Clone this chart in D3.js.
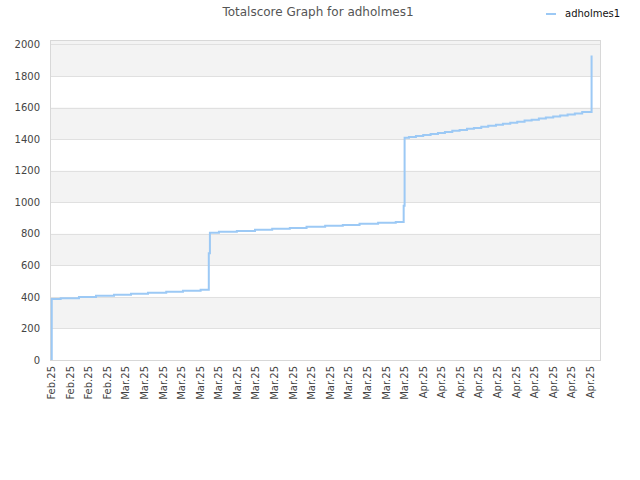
<!DOCTYPE html>
<html>
<head>
<meta charset="utf-8">
<script src="https://cdn.jsdelivr.net/npm/d3@7"></script>
<style>
  body { margin: 0; background: #fff; }
  text { font-family: "DejaVu Sans", sans-serif; }
</style>
</head>
<body>
<script>
// days since the first tick (Feb 21 2025), and the score reached at that moment
var stepDays = [0.08, 0.08, 1.04, 3.01, 4.84, 6.78, 8.61, 10.44, 12.4, 14.2, 16.1, 16.98, 17.1,
  18.07, 20.0, 21.95, 23.8, 25.7, 27.5, 29.5, 31.4, 33.2, 35.2, 37.1, 37.95, 38.05,
  38.52, 39.27, 40.05, 40.85, 41.64, 42.39, 43.18, 43.97, 44.76, 45.51, 46.30, 47.05,
  47.88, 48.63, 49.42, 50.17, 50.96, 51.72, 52.50, 53.25, 54.04, 54.79, 55.59, 56.37,
  57.16, 58.17];
var stepScores = [0, 386, 392, 400, 407, 413, 420, 426, 432, 439, 445, 677, 806,
  812, 818, 825, 831, 837, 844, 850, 856, 863, 869, 875, 977, 1409,
  1413, 1419, 1426, 1432, 1439, 1445, 1452, 1458, 1465, 1471, 1478, 1484,
  1491, 1497, 1504, 1510, 1517, 1523, 1530, 1536, 1543, 1549, 1556, 1562,
  1571, 1930];

// x tick labels, one every two days
var tickLabels = ["Feb.25", "Feb.25", "Feb.25", "Feb.25",
  "Mar.25", "Mar.25", "Mar.25", "Mar.25", "Mar.25", "Mar.25", "Mar.25", "Mar.25",
  "Mar.25", "Mar.25", "Mar.25", "Mar.25", "Mar.25", "Mar.25", "Mar.25", "Mar.25",
  "Apr.25", "Apr.25", "Apr.25", "Apr.25", "Apr.25", "Apr.25", "Apr.25", "Apr.25",
  "Apr.25", "Apr.25"];
var yTicks = [0, 200, 400, 600, 800, 1000, 1200, 1400, 1600, 1800, 2000];

var userName = "adholmes1";
var lineColor = "#9cc9f5";

var width = 640, height = 480;
var plot = {left: 50, right: 600, top: 40, bottom: 360};

var svg = d3.select("body").append("svg")
    .attr("width", width)
    .attr("height", height);

var x = d3.scaleLinear().domain([0, (tickLabels.length - 1) * 2]).range([51, 590]);
var y = d3.scaleLinear().domain([0, 2000]).range([plot.bottom, 44.4]);

// background
svg.append("rect")
    .attr("x", plot.left).attr("y", plot.top)
    .attr("width", plot.right - plot.left).attr("height", plot.bottom - plot.top)
    .attr("fill", "#fff");

// alternating bands (200-400, 600-800, ... and above 1800 up to the frame)
var bands = yTicks.filter(function(d, i) { return i % 2 == 1; });
svg.append("g").selectAll("rect")
    .data(bands)
    .enter().append("rect")
    .attr("x", plot.left)
    .attr("y", function(d) { return d + 200 >= 2000 ? plot.top : y(d + 200); })
    .attr("width", plot.right - plot.left)
    .attr("height", function(d) {
      var yTop = d + 200 >= 2000 ? plot.top : y(d + 200);
      return y(d) - yTop;
    })
    .attr("fill", "#f3f3f3");

// gridlines
svg.append("g").selectAll("line")
    .data(yTicks)
    .enter().append("line")
    .attr("x1", plot.left).attr("x2", plot.right)
    .attr("y1", function(d) { return Math.round(y(d)) + 0.5; })
    .attr("y2", function(d) { return Math.round(y(d)) + 0.5; })
    .attr("stroke", "#e0e0e0")
    .attr("stroke-width", 1);

// plot border
svg.append("rect")
    .attr("x", plot.left + 0.5).attr("y", plot.top + 0.5)
    .attr("width", plot.right - plot.left).attr("height", plot.bottom - plot.top)
    .attr("fill", "none")
    .attr("stroke", "#d8d8d8");

// y axis labels
var yAxis = d3.axisLeft(y).tickValues(yTicks).tickFormat(d3.format("d"))
    .tickSize(0).tickPadding(0);
var gy = svg.append("g")
    .attr("transform", "translate(40,0)")
    .call(yAxis);
gy.select(".domain").remove();
gy.selectAll("text")
    .attr("font-size", "10px")
    .attr("font-family", "DejaVu Sans, sans-serif")
    .attr("fill", "#444");

// x axis labels
var tickDays = tickLabels.map(function(d, i) { return i * 2; });
var xAxis = d3.axisBottom(x).tickValues(tickDays)
    .tickFormat(function(d, i) { return tickLabels[i]; })
    .tickSize(0).tickPadding(0);
var gx = svg.append("g")
    .attr("transform", "translate(0," + plot.bottom + ")")
    .call(xAxis);
gx.select(".domain").remove();
gx.selectAll("text")
    .attr("font-size", "10px")
    .attr("font-family", "DejaVu Sans, sans-serif")
    .attr("fill", "#444")
    .attr("text-anchor", "end")
    .attr("dy", "0.35em")
    .attr("transform", "translate(0,6) rotate(-90)")
    .attr("x", 0).attr("y", 0);

// the score line
var data = stepDays.map(function(d, i) { return {day: d, score: stepScores[i]}; });
var line = d3.line()
    .curve(d3.curveStepAfter)
    .x(function(d) { return x(d.day); })
    .y(function(d) { return y(d.score); });
svg.append("path")
    .datum(data)
    .attr("d", line)
    .attr("fill", "none")
    .attr("stroke", lineColor)
    .attr("stroke-width", 2);

// title
svg.append("text")
    .attr("x", 318).attr("y", 16)
    .attr("text-anchor", "middle")
    .attr("font-size", "12px")
    .attr("fill", "#555")
    .text("Totalscore Graph for " + userName);

// legend
svg.append("line")
    .attr("x1", 546).attr("x2", 556)
    .attr("y1", 14).attr("y2", 14)
    .attr("stroke", lineColor).attr("stroke-width", 2);
svg.append("text")
    .attr("x", 565).attr("y", 17)
    .attr("font-size", "10px")
    .attr("fill", "#111")
    .text(userName);
</script>
</body>
</html>
